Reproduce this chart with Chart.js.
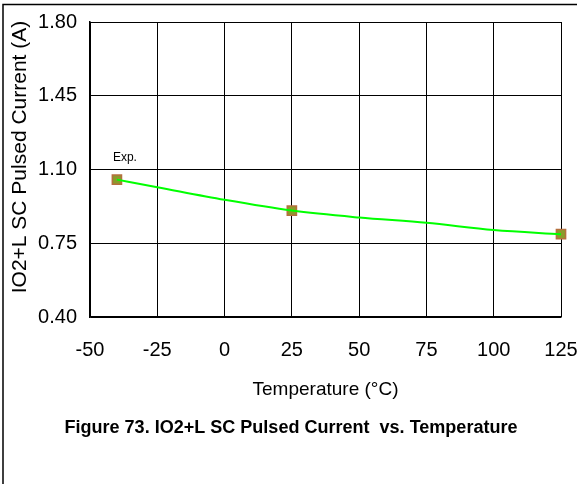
<!DOCTYPE html>
<html>
<head>
<meta charset="utf-8">
<script src="https://cdn.jsdelivr.net/npm/chart.js@4"></script>
<style>
  html, body { margin: 0; padding: 0; background: #fff; }
  #wrap { position: relative; width: 577px; height: 484px; }
</style>
</head>
<body>
<div id="wrap"><canvas id="myChart" width="577" height="484"></canvas></div>
<script>
// fitted curve
const curveTemps = [-40, -25, 0, 25, 50, 75, 100, 125];
const curveValues = [1.052, 1.016, 0.956, 0.905, 0.872, 0.847, 0.813, 0.793];

// measured points
const expTemps = [-40, 25, 125];
const expValues = [1.052, 0.905, 0.793];

const xTicks = [-50, -25, 0, 25, 50, 75, 100, 125];
const yTicks = [0.40, 0.75, 1.10, 1.45, 1.80];

const yTitle = 'IO2+L SC Pulsed Current (A)';
const xTitle = 'Temperature (\u00B0C)';
const caption = 'Figure 73. IO2+L SC Pulsed Current  vs. Temperature';
const expLabel = 'Exp.';

const FONT = '"Liberation Sans", Arial, Helvetica, sans-serif';

const ctx = document.getElementById('myChart').getContext('2d');

const extras = {
    id: 'extras',
    beforeDraw(chart) {
        const c = chart.ctx;
        c.save();
        c.fillStyle = '#fff';
        c.fillRect(0, 0, chart.width, chart.height);
        // page frame (left and top)
        c.strokeStyle = '#000';
        c.lineWidth = 1.5;
        c.beginPath();
        c.moveTo(3, 484);
        c.lineTo(3, 4.5);
        c.lineTo(577, 4.5);
        c.stroke();
        c.restore();
    },
    afterDraw(chart) {
        const c = chart.ctx;
        const xs = chart.scales.x;
        const ys = chart.scales.y;
        c.save();
        c.fillStyle = '#000';

        // y axis title
        c.save();
        c.translate(20, 157);
        c.rotate(-Math.PI / 2);
        c.font = '21px ' + FONT;
        c.textAlign = 'center';
        c.textBaseline = 'middle';
        c.fillText(yTitle, 0, 0);
        c.restore();

        // "Exp." note beside the first measured point
        c.font = '12px ' + FONT;
        c.textAlign = 'left';
        c.textBaseline = 'middle';
        c.fillText(expLabel, xs.getPixelForValue(expTemps[0]) - 4, ys.getPixelForValue(expValues[0]) - 22);

        // caption under the chart
        c.font = 'bold 18px ' + FONT;
        const w = c.measureText(caption).width;
        c.save();
        c.translate(291, 428);
        c.scale(453 / w, 1);
        c.textAlign = 'center';
        c.textBaseline = 'middle';
        c.fillText(caption, 0, 0);
        c.restore();

        c.restore();
    }
};

const myChart = new Chart(ctx, {
    type: 'line',
    data: {
        datasets: [{
            label: 'curve',
            data: curveTemps.map((t, i) => ({ x: t, y: curveValues[i] })),
            borderColor: '#00ff00',
            borderWidth: 2,
            pointRadius: 0,
            cubicInterpolationMode: 'monotone',
            fill: false,
        }, {
            label: 'Exp.',
            data: expTemps.map((t, i) => ({ x: t, y: expValues[i] })),
            showLine: false,
            pointStyle: 'rect',
            pointRadius: 6.5,
            pointBackgroundColor: '#8c9a2c',
            pointBorderColor: '#b5703e',
            pointBorderWidth: 1.5,
            clip: false,
        }]
    },
    options: {
        responsive: false,
        animation: false,
        layout: {
            padding: { top: 22, right: 16, bottom: 80, left: 0 }
        },
        plugins: {
            legend: { display: false },
            tooltip: { enabled: false },
        },
        scales: {
            x: {
                type: 'linear',
                min: -50,
                max: 125,
                afterBuildTicks: (axis) => { axis.ticks = xTicks.map(v => ({ value: v })); },
                afterFit: (axis) => {
                    axis.height = 87;
                    axis.paddingLeft = 0;
                    axis.paddingRight = 0;
                },
                grid: { color: '#000', lineWidth: 1, drawTicks: false },
                border: { color: '#000', width: 1.5 },
                ticks: {
                    color: '#000',
                    padding: 21,
                    maxRotation: 0,
                    font: { family: FONT, size: 20 },
                },
                title: {
                    display: true,
                    text: xTitle,
                    color: '#000',
                    font: { family: FONT, size: 19 },
                    padding: { top: 0, bottom: 3 },
                },
            },
            y: {
                min: 0.4,
                max: 1.8,
                afterBuildTicks: (axis) => { axis.ticks = yTicks.map(v => ({ value: v })); },
                afterFit: (axis) => {
                    axis.width = 90;
                    axis.paddingTop = 0;
                    axis.paddingBottom = 0;
                },
                grid: { color: '#000', lineWidth: 1, drawTicks: false },
                border: { color: '#000', width: 1.5 },
                ticks: {
                    color: '#000',
                    padding: 13,
                    font: { family: FONT, size: 20 },
                    callback: (v) => Number(v).toFixed(2),
                },
            }
        }
    },
    plugins: [extras]
});
</script>
</body>
</html>
